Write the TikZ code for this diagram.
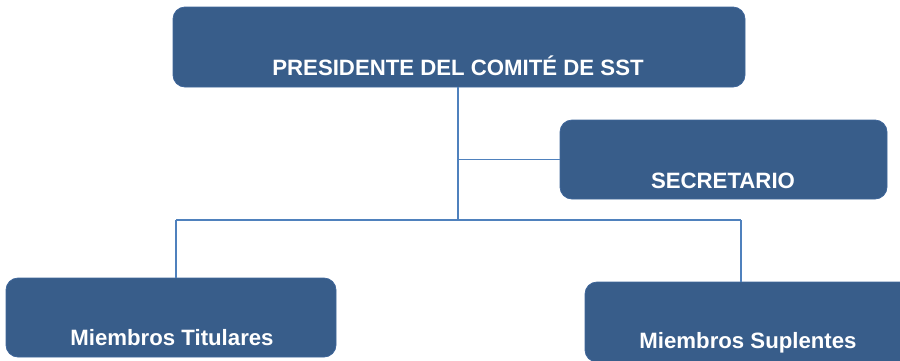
\documentclass[tikz,border=0pt]{standalone}
\usepackage{fontspec}
\setmainfont{Liberation Sans}
\definecolor{boxfill}{HTML}{385D8A}
\definecolor{boxedge}{HTML}{3F669A}
\definecolor{linkc}{HTML}{4F81BD}
\begin{document}
\begin{tikzpicture}[x=1pt,y=-1pt,
  orgbox/.style={draw=boxedge,line width=0.8pt,fill=boxfill,rounded corners=12pt,inner sep=0pt},
  orgtext/.style={text=white,font=\fontsize{22.2}{25}\selectfont\bfseries,anchor=base,inner sep=0pt},
  link/.style={draw=linkc,line width=1.2pt}]
\useasboundingbox (0,0) rectangle (900,360);
\clip (0,0) rectangle (900,360);
\node[orgbox,minimum width=572pt,minimum height=80pt] (pres) at (459,47) {};
\node[orgbox,minimum width=327pt,minimum height=79pt] (sec) at (723.5,159.5) {};
\node[orgbox,minimum width=330pt,minimum height=79pt] (tit) at (171,317.5) {};
\node[orgbox,minimum width=326pt,minimum height=80pt] (sup) at (748,322) {};
\node[orgtext] (prest) at (458,75) {PRESIDENTE DEL COMITÉ DE SST};
\node[orgtext] (sect) at (723,188) {SECRETARIO};
\node[orgtext] (titt) at (172,345) {Miembros Titulares};
\node[orgtext] (supt) at (748,348) {Miembros Suplentes};
\coordinate (hub) at (458,220);
\coordinate (secj) at (458,159.5);
\coordinate (lj) at (176,220);
\coordinate (rj) at (741,220);
\path[link] (pres.south -| hub) -- (hub);
\path[link] (secj) -- (sec.west);
\path[link] (lj) -- (rj);
\path[link] (lj) -- (lj |- tit.north);
\path[link] (rj) -- (rj |- sup.north);
\end{tikzpicture}
\end{document}
